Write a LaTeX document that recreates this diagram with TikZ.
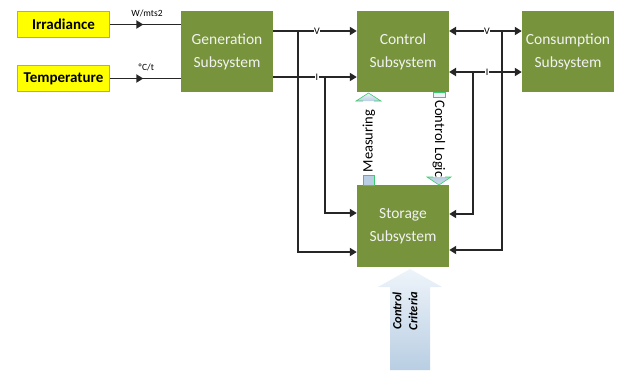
\documentclass[tikz,border=0pt]{standalone}
\usepackage{fontspec}
\setmainfont{Carlito}
\usetikzlibrary{arrows.meta,decorations.markings}
\definecolor{subsys}{HTML}{77933C}
\definecolor{subtext}{HTML}{F2F2F2}
\definecolor{inbox}{HTML}{FFFF00}
\definecolor{inedge}{HTML}{9BBB59}
\definecolor{wire}{HTML}{262626}
\definecolor{sigedge}{HTML}{3CCB6E}
\definecolor{sigfill}{HTML}{B9CEE3}
\definecolor{sigpale}{HTML}{EEF4FA}
\begin{document}
\begin{tikzpicture}[x=1pt,y=-1pt,
  subbox/.style={draw=none,fill=subsys,minimum width=92pt,minimum height=81pt,
    align=center,text=subtext,font=\fontsize{15.5}{23}\selectfont,inner sep=0pt},
  inputbox/.style={draw=inedge,line width=1.3pt,fill=inbox,minimum width=92pt,
    minimum height=26pt,font=\bfseries\fontsize{15}{17}\selectfont,inner sep=0pt},
  wireline/.style={draw=wire,line width=1.8pt},
  tip/.style={-{Triangle[length=7pt,width=8pt]}},
  bothtips/.style={{Triangle[length=7pt,width=8pt]}-{Triangle[length=7pt,width=8pt]}},
  midtip/.style={postaction={decorate},decoration={markings,
    mark=at position 0.47 with {\arrow{Triangle[length=7pt,width=8pt]}}}},
  wirelabel/.style={font=\fontsize{9.5}{10}\selectfont,inner sep=0pt},
  onwire/.style={font=\fontsize{10}{11}\selectfont,fill=white,inner sep=0.3pt},
  sigtext/.style={font=\fontsize{14.5}{17}\selectfont,inner sep=0pt}]
\useasboundingbox (0,0) rectangle (617,370);

% input boxes
\node[inputbox] (irr) at (63.5,24.5) {Irradiance};
\node[inputbox] (temp) at (63.5,78.5) {Temperature};

% subsystems
\node[subbox] (gen) at (227,51.5) {Generation\\Subsystem};
\node[subbox] (ctrl) at (403,51.5) {Control\\Subsystem};
\node[subbox] (cons) at (568,51.5) {Consumption\\Subsystem};
\node[subbox,minimum height=82pt] (stor) at (403,226) {Storage\\Subsystem};

% inputs to generation
\draw[wireline,midtip] (irr.east) -- (gen.west |- irr.east);
\draw[wireline,midtip] (temp.east) -- (gen.west |- temp.east);
\node[wirelabel] (wl) at (147,13) {W/mts2};
\node[wirelabel] (tl) at (146,67) {ºC/t};

% generation to control
\coordinate (gv) at (273,31);
\coordinate (gi) at (273,77);
\draw[wireline,tip] (gv) -- (ctrl.west |- gv);
\draw[wireline,tip] (gi) -- (ctrl.west |- gi);
\node[onwire] (vl) at (317,31) {V};
\node[onwire] (il) at (317,77) {I};

% branches to storage (left)
\coordinate (lv) at (298,31);
\coordinate (li) at (325,77);
\draw[wireline,tip] (lv) |- (stor.west |- 0,252);
\draw[wireline,tip] (li) |- (stor.west |- 0,213);

% control to consumption
\coordinate (rv) at (449,31);
\coordinate (ri) at (449,72);
\draw[wireline,bothtips] (rv) -- (cons.west |- rv);
\draw[wireline,bothtips] (ri) -- (cons.west |- ri);
\node[onwire] (vr) at (487,31) {V};
\node[onwire] (ir) at (487,72) {I};

% branches to storage (right)
\coordinate (bv) at (502,31);
\coordinate (bi) at (473,72);
\draw[wireline,tip] (bv) |- (stor.east |- 0,250);
\draw[wireline,tip] (bi) |- (stor.east |- 0,214);

% measuring signal (up)
\draw[sigedge,line width=0.6pt,top color=sigpale,bottom color=sigfill]
  (363,101) -- (356,101) -- (368.5,93) -- (381,101) -- (374,101);
\draw[sigedge,line width=0.6pt,fill=sigfill] (363,175) rectangle (374,185);
\node[sigtext,rotate=90] (meas) at (369,141) {Measuring};

% control logic signal (down)
\draw[sigedge,line width=0.6pt,fill=sigpale] (433,92.5) rectangle (445,97);
\draw[sigedge,line width=0.6pt,top color=sigfill,bottom color=sigfill!70!white]
  (433,177) -- (427,177) -- (439,185) -- (451,177) -- (445,177);
\node[sigtext,rotate=-90] (logic) at (439,139) {Control Logic};

% control criteria input
\shade[top color=sigpale,bottom color=sigfill]
  (390,370) -- (390,287) -- (378,287) -- (410,269) -- (442,287)
  -- (430,287) -- (430,370) -- cycle;
\node[rotate=90,align=center,font=\bfseries\itshape\fontsize{12.5}{16}\selectfont,
  inner sep=0pt] (crit) at (405,311) {Control\\Criteria};
\end{tikzpicture}
\end{document}
